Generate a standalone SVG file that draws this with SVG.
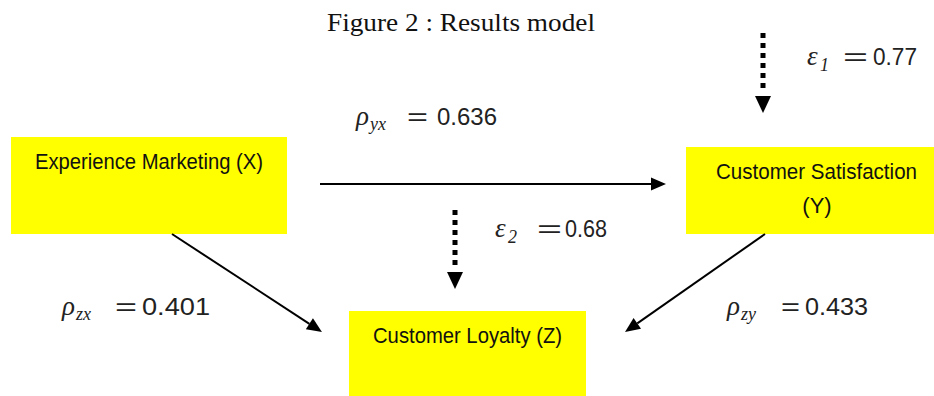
<svg xmlns="http://www.w3.org/2000/svg" width="934" height="396" viewBox="0 0 934 396">
<style>
.box{fill:#FFFF00;}
.nt{font-family:"Liberation Sans",Arial,sans-serif;font-size:22px;fill:#111;}
.title{font-family:"Liberation Serif","Times New Roman",serif;font-size:25px;fill:#111;}
.sym{font-family:"Liberation Serif","Times New Roman",serif;font-style:italic;font-size:27px;fill:#222;}
.sub{font-family:"Liberation Serif","Times New Roman",serif;font-style:italic;font-size:18px;fill:#222;}
.num{font-family:"Liberation Sans",Arial,sans-serif;font-size:23px;fill:#222;}
.solid{stroke:#000;stroke-width:2;fill:none;}
.dot{stroke:#000;stroke-width:5;stroke-dasharray:5 5;fill:none;}
</style>
<defs>
<marker id="ah" markerUnits="userSpaceOnUse" markerWidth="15" markerHeight="13" refX="0" refY="6.5" orient="auto" overflow="visible">
<path d="M0,0 L15,6.5 L0,13 z" fill="#000"/>
</marker>
<marker id="ahd" markerUnits="userSpaceOnUse" markerWidth="17" markerHeight="16" refX="-5" refY="8" orient="auto" overflow="visible">
<path d="M0,0 L17,8 L0,16 z" fill="#000"/>
</marker>
</defs>
<rect width="934" height="396" fill="#fff"/>
<text class="title" x="327" y="31" textLength="268" lengthAdjust="spacingAndGlyphs">Figure 2 : Results model</text>

<g id="node-x">
<rect class="box" x="11" y="137" width="276" height="97"/>
<text class="nt" x="35" y="169" textLength="228" lengthAdjust="spacingAndGlyphs">Experience Marketing (X)</text>
</g>
<g id="node-y">
<rect class="box" x="686" y="147" width="248" height="87"/>
<text class="nt" x="716" y="179" textLength="201" lengthAdjust="spacingAndGlyphs">Customer Satisfaction</text>
<text class="nt" x="817" y="213" text-anchor="middle">(Y)</text>
</g>
<g id="node-z">
<rect class="box" x="349" y="311" width="237" height="85"/>
<text class="nt" x="373" y="343" textLength="189" lengthAdjust="spacingAndGlyphs">Customer Loyalty (Z)</text>
</g>

<g id="connectors">
<line class="solid" x1="320" y1="184" x2="651" y2="184" marker-end="url(#ah)"/>
<line class="solid" x1="172" y1="234" x2="309.4" y2="323.8" marker-end="url(#ah)"/>
<line class="solid" x1="765" y1="234" x2="637.3" y2="323.4" marker-end="url(#ah)"/>
<line class="dot" x1="763" y1="33" x2="763" y2="91" marker-end="url(#ahd)"/>
<line class="dot" x1="455" y1="210" x2="455" y2="267" marker-end="url(#ahd)"/>
</g>

<g id="labels">
<g id="lab-e1">
<text class="sym" x="807" y="65">ε</text>
<text class="sub" x="820" y="71">1</text>
<text class="num" x="843" y="65" textLength="25" lengthAdjust="spacingAndGlyphs">=</text>
<text class="num" x="873" y="65" textLength="44" lengthAdjust="spacingAndGlyphs">0.77</text>
</g>
<g id="lab-pyx">
<text class="sym" x="356" y="125">ρ</text>
<text class="sub" x="370" y="130">yx</text>
<text class="num" x="407" y="125" textLength="21" lengthAdjust="spacingAndGlyphs">=</text>
<text class="num" x="437" y="125" textLength="60" lengthAdjust="spacingAndGlyphs">0.636</text>
</g>
<g id="lab-e2">
<text class="sym" x="495" y="237">ε</text>
<text class="sub" x="508" y="243">2</text>
<text class="num" x="537" y="237" textLength="25" lengthAdjust="spacingAndGlyphs">=</text>
<text class="num" x="565" y="237" textLength="42" lengthAdjust="spacingAndGlyphs">0.68</text>
</g>
<g id="lab-pzx">
<text class="sym" x="62" y="315">ρ</text>
<text class="sub" x="76" y="320">zx</text>
<text class="num" x="115" y="315" textLength="22" lengthAdjust="spacingAndGlyphs">=</text>
<text class="num" x="142" y="315" textLength="68" lengthAdjust="spacingAndGlyphs">0.401</text>
</g>
<g id="lab-pzy">
<text class="sym" x="727" y="315">ρ</text>
<text class="sub" x="741" y="320">zy</text>
<text class="num" x="781" y="315" textLength="19" lengthAdjust="spacingAndGlyphs">=</text>
<text class="num" x="805" y="315" textLength="63" lengthAdjust="spacingAndGlyphs">0.433</text>
</g>
</g>
</svg>
